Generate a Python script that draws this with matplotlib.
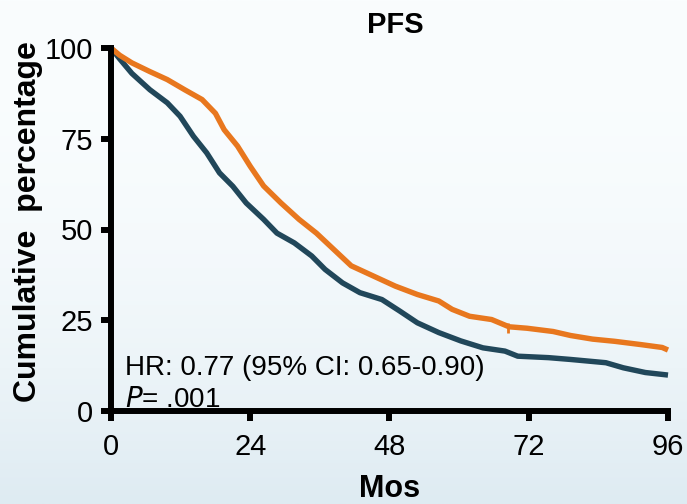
import numpy as np
import matplotlib
matplotlib.use("Agg")
from matplotlib import pyplot as plt

plt.rcParams['font.family'] = ['Liberation Sans', 'DejaVu Sans']

# curve readings (months, cumulative %)
orange_x = [0, 1.5, 3.6, 6.7, 9.7, 12.7, 15.7, 18, 19.5, 21.8, 24, 26.3, 29.3, 32.4, 35.4,
            38.4, 41.4, 45.2, 49, 52.8, 56.5, 58.8, 61.8, 65.6, 68.6, 71.7, 76.2, 79.2,
            83, 86.8, 91.3, 95, 96]
orange_y = [100, 98, 95.9, 93.5, 91.3, 88.5, 85.8, 82, 77.5, 73, 67.4, 62, 57.3, 52.8, 49,
            44.5, 40, 37.2, 34.4, 32.1, 30.3, 28, 26.1, 25.2, 23.2, 22.8, 21.9, 20.8,
            19.8, 19.2, 18.3, 17.5, 16.8]
teal_x = [0, 1.5, 3.6, 6.7, 9.7, 11.9, 14.2, 16.5, 18.7, 21, 23.3, 26.3, 28.6, 31.6, 34.6,
          36.9, 39.9, 42.9, 46.7, 49.8, 52.8, 56.5, 60.3, 64.1, 67.9, 70.1, 75.4, 79.2,
          85.3, 88.3, 92.1, 96]
teal_y = [100, 97, 93, 88.5, 84.9, 81.2, 75.7, 71.1, 65.6, 61.9, 57.3, 52.8, 49, 46.3, 42.7,
          39, 35.3, 32.6, 30.7, 27.5, 24.3, 21.6, 19.3, 17.4, 16.5, 15.1, 14.7, 14.2,
          13.3, 11.9, 10.6, 9.9]
censor_x = [68.5]
censor_y = [23.0]

xticks = [0, 24, 48, 72, 96]
yticks = [0, 25, 50, 75, 100]

fig = plt.figure(figsize=(6.87, 5.04), dpi=100)

# background gradient (white at top, pale blue at bottom)
bg = fig.add_axes([0, 0, 1, 1], zorder=-10)
t = np.linspace(0, 1, 256)[:, None]
top = np.array([250, 253, 254]) / 255
bot = np.array([222, 235, 242]) / 255
w = t ** 2.2
grad = top[None, None, :] * (1 - w[..., None]) + bot[None, None, :] * w[..., None]
grad = np.repeat(grad, 2, axis=1)
bg.imshow(grad, aspect="auto", extent=[0, 1, 0, 1], origin="upper")
bg.axis("off")

ax = fig.add_axes([111/687, 93/504, 557/687, 363/504])
ax.patch.set_alpha(0)

ax.plot(teal_x, teal_y, color="#21475a", lw=3.9, solid_capstyle="butt", clip_on=False)
ax.plot(orange_x, orange_y, color="#e8771e", lw=3.9, solid_capstyle="butt", clip_on=False)
ax.plot(censor_x, censor_y, ls="none", marker="|", ms=7, mew=2, color="#e8771e")

ax.set_xlim(0, 96)
ax.set_ylim(0, 100)
ax.set_xticks(xticks)
ax.set_yticks(yticks)
for s in ["top", "right"]:
    ax.spines[s].set_visible(False)
for s in ["left", "bottom"]:
    ax.spines[s].set_linewidth(4.3)
    ax.spines[s].set_capstyle("projecting")
ax.tick_params(axis="both", direction="out", length=7, width=4.3, labelsize=21, colors="black")
ax.tick_params(axis="x", pad=9)
ax.tick_params(axis="y", pad=6)

ax.text(0.025, 0.1, "HR: 0.77 (95% CI: 0.65-0.90)", transform=ax.transAxes, fontsize=20,
        va="baseline", ha="left")
ax.text(0.025, 0.01, "$\\it{P}$= .001", transform=ax.transAxes, fontsize=20,
        va="baseline", ha="left")

fig.text(395/687, 1 - 25/504, "PFS", fontsize=21, fontweight="bold", ha="center", va="center")
fig.text(390/687, 1 - 489/504, "Mos", fontsize=22, fontweight="bold", ha="center", va="center")
fig.text(28/687, 1 - 222/504, "Cumulative  percentage", fontsize=23, fontweight="bold",
         rotation=90, ha="center", va="center")

fig.savefig("out.png", dpi=100)
